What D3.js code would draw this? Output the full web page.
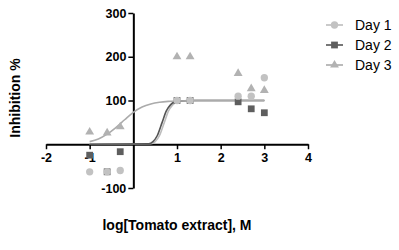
<!DOCTYPE html>
<html>
<head>
<meta charset="utf-8">
<script src="https://cdn.jsdelivr.net/npm/d3@7"></script>
<style>
  body { margin: 0; background: #fff; }
  svg { font-family: "Liberation Sans", Arial, sans-serif; }
</style>
</head>
<body>
<div id="chart"></div>
<script>
// log concentrations
var doses = [-1, -0.6, -0.3, 1, 1.3, 2.4, 2.7, 3];
var day1 = [-63, -63, -60, 100, 100, 110, 110, 152];
var day2 = [-25, -63, -17, 100, 100, 97, 81, 72];
var day3 = [28, 26, 40, 200, 200, 162, 127, 123];

// fitted curves
var fitDay1X = [-1, 0.4, 0.5, 0.6, 0.71, 0.8, 0.9, 1.0, 1.1, 1.3, 3];
var fitDay1Y = [0, 1, 6, 20, 50, 75, 90, 97, 99, 100, 100];
var fitDay2X = [-1, 0.35, 0.45, 0.55, 0.66, 0.75, 0.85, 0.95, 1.05, 1.3, 3];
var fitDay2Y = [0, 1, 6, 20, 50, 75, 90, 97, 99, 100, 100];
var fitDay3X = [-1, -0.8, -0.6, -0.4, -0.2, 0, 0.2, 0.4, 0.6, 0.8, 1.0, 1.5, 3];
var fitDay3Y = [6, 12, 23, 38, 56, 73, 85, 92, 96, 98, 99, 100, 100];

var xTicks = [-2, -1, 1, 2, 3, 4];
var yTicks = [-100, 100, 200, 300];
var seriesNames = ["Day 1", "Day 2", "Day 3"];

var width = 399, height = 250;
var colors = { "Day 1": "#c2c2c2", "Day 2": "#5e5e5e", "Day 3": "#b2b2b2" };
var lineColors = { "Day 1": "#bdbdbd", "Day 2": "#555555", "Day 3": "#ababab" };

var svg = d3.select("#chart").append("svg")
    .attr("width", width)
    .attr("height", height);

var x = d3.scaleLinear().domain([-2, 4]).range([46, 308]);
var y = d3.scaleLinear().domain([-100, 300]).range([188, 13]);

// axes (plain hyphen for negatives, like the original)
var fmt = d => String(d);
var xAxis = svg.append("g")
    .attr("transform", "translate(0," + y(0) + ")")
    .call(d3.axisBottom(x).tickValues(xTicks).tickSize(5).tickPadding(4).tickSizeOuter(0).tickFormat(fmt));
var yAxis = svg.append("g")
    .attr("transform", "translate(" + x(0) + ",0)")
    .call(d3.axisLeft(y).tickValues(yTicks).tickSize(5).tickPadding(2).tickSizeOuter(0).tickFormat(fmt));

[xAxis, yAxis].forEach(function (g) {
    g.select(".domain").attr("stroke", "#000").attr("stroke-width", 2);
    g.selectAll(".tick line").attr("stroke", "#000").attr("stroke-width", 1.5);
    g.selectAll(".tick text")
        .attr("fill", "#000")
        .style("font-size", "12.5px")
        .style("font-weight", "bold")
        .style("font-family", "'Liberation Sans', Arial, sans-serif");
});

// fitted curves
var line = d3.line()
    .x(d => x(d[0]))
    .y(d => y(d[1]))
    .curve(d3.curveMonotoneX);

var fits = [
    { name: "Day 1", xs: fitDay1X, ys: fitDay1Y },
    { name: "Day 2", xs: fitDay2X, ys: fitDay2Y },
    { name: "Day 3", xs: fitDay3X, ys: fitDay3Y }
];
fits.forEach(function (f) {
    svg.append("path")
        .datum(f.xs.map((v, i) => [v, f.ys[i]]))
        .attr("d", line)
        .attr("fill", "none")
        .attr("stroke", lineColors[f.name])
        .attr("stroke-width", 1.6);
});

// symbols
var sym = {
    "Day 1": d3.symbol().type(d3.symbolCircle).size(42),
    "Day 2": d3.symbol().type(d3.symbolSquare).size(46),
    "Day 3": d3.symbol().type(d3.symbolTriangle).size(34)
};

// squares first, circles over them, then triangles
var pointSets = [
    { name: "Day 2", vals: day2 },
    { name: "Day 1", vals: day1 },
    { name: "Day 3", vals: day3 }
];
pointSets.forEach(function (s) {
    svg.selectAll(null)
        .data(doses.map((d, i) => [d, s.vals[i]]))
        .join("path")
        .attr("d", sym[s.name]())
        .attr("transform", d => "translate(" + x(d[0]) + "," + y(d[1]) + ")")
        .attr("fill", colors[s.name]);
});

// legend
var legend = svg.append("g").attr("transform", "translate(326,25)");
seriesNames.forEach(function (name, i) {
    var row = legend.append("g").attr("transform", "translate(0," + i * 20 + ")");
    row.append("line")
        .attr("x1", 0).attr("x2", 17)
        .attr("stroke", lineColors[name])
        .attr("stroke-width", 1.6);
    row.append("path")
        .attr("d", sym[name]())
        .attr("transform", "translate(8.5,0)")
        .attr("fill", colors[name]);
    row.append("text")
        .attr("x", 29)
        .attr("y", 5)
        .style("font-size", "14px")
        .attr("fill", "#000")
        .text(name);
});

// axis titles
svg.append("text")
    .attr("transform", "translate(20," + 98 + ") rotate(-90)")
    .attr("text-anchor", "middle")
    .style("font-size", "14px")
    .style("font-weight", "bold")
    .text("Inhibition %");

svg.append("text")
    .attr("x", 177)
    .attr("y", 230)
    .attr("text-anchor", "middle")
    .style("font-size", "14px")
    .style("font-weight", "bold")
    .text("log[Tomato extract], M");
</script>
</body>
</html>
